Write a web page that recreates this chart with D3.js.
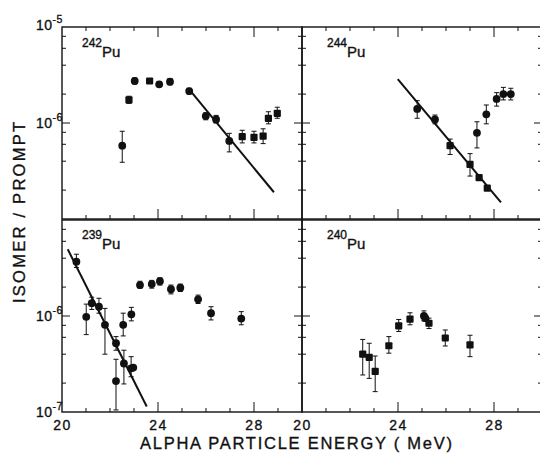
<!DOCTYPE html>
<html>
<head>
<meta charset="utf-8">
<script src="https://cdn.jsdelivr.net/npm/d3@7"></script>
<style>
  html, body { margin: 0; padding: 0; background: #fff; }
  svg { display: block; }
  text { font-family: "Liberation Sans", Arial, sans-serif; fill: #111; stroke: #111; stroke-width: 0.35; }
</style>
</head>
<body>
<svg id="chart" width="540" height="454"></svg>
<script>
// Isomer-to-prompt ratios vs. alpha particle energy (MeV), values in units of 1e-6.
// Each point: [energy, ratio, lower error, upper error, marker ("c" circle / "s" square)]
const pu242 = [
  [22.51, 0.58, 0.39, 0.82, "c"], [22.79, 1.74, 1.60, 1.90, "s"], [23.03, 2.74, 2.55, 2.95, "c"],
  [23.65, 2.74, 2.74, 2.74, "s"], [24.05, 2.53, 2.40, 2.70, "c"], [24.50, 2.69, 2.50, 2.90, "c"],
  [25.30, 2.15, 2.00, 2.30, "c"], [25.99, 1.18, 1.08, 1.28, "c"], [26.42, 1.09, 1.00, 1.20, "c"],
  [26.97, 0.65, 0.50, 0.78, "c"], [27.51, 0.72, 0.62, 0.84, "s"], [28.00, 0.71, 0.62, 0.82, "s"],
  [28.38, 0.73, 0.61, 0.87, "s"], [28.60, 1.12, 0.98, 1.31, "s"], [28.97, 1.26, 1.12, 1.46, "s"]
];
const pu244 = [
  [24.80, 1.40, 1.12, 1.71, "c"], [25.54, 1.09, 0.98, 1.21, "c"], [26.17, 0.58, 0.47, 0.68, "s"],
  [27.00, 0.37, 0.28, 0.48, "s"], [27.38, 0.27, 0.27, 0.27, "s"], [27.72, 0.21, 0.21, 0.21, "s"],
  [27.29, 0.79, 0.55, 1.03, "c"], [27.68, 1.23, 0.98, 1.54, "c"], [28.11, 1.78, 1.50, 2.07, "c"],
  [28.39, 2.00, 1.74, 2.35, "c"], [28.70, 2.00, 1.74, 2.30, "c"]
];
const pu239 = [
  [20.60, 3.68, 3.20, 4.40, "c"], [21.01, 0.98, 0.64, 1.33, "c"], [21.24, 1.36, 1.17, 1.57, "c"],
  [21.54, 1.25, 1.07, 1.53, "c"], [21.79, 0.81, 0.40, 1.20, "c"], [22.25, 0.52, 0.44, 0.61, "c"],
  [22.25, 0.21, 0.105, 0.354, "c"], [22.55, 0.81, 0.62, 1.07, "c"], [22.58, 0.32, 0.196, 0.44, "c"],
  [22.88, 0.285, 0.233, 0.377, "c"], [22.97, 0.29, 0.29, 0.29, "c"], [22.89, 1.04, 0.89, 1.23, "c"],
  [23.25, 2.10, 1.95, 2.30, "c"], [23.74, 2.15, 1.95, 2.35, "c"], [24.08, 2.30, 2.10, 2.50, "c"],
  [24.54, 1.90, 1.70, 2.10, "c"], [24.93, 1.97, 1.80, 2.15, "c"], [25.67, 1.49, 1.35, 1.65, "c"],
  [26.21, 1.07, 0.91, 1.25, "c"], [27.47, 0.94, 0.81, 1.11, "c"]
];
const pu240 = [
  [22.53, 0.40, 0.243, 0.57, "s"], [22.80, 0.37, 0.224, 0.52, "s"], [23.05, 0.265, 0.163, 0.383, "s"],
  [23.62, 0.49, 0.41, 0.61, "s"], [24.03, 0.79, 0.69, 0.92, "s"], [24.50, 0.93, 0.81, 1.08, "s"],
  [25.08, 1.00, 0.89, 1.13, "c"], [25.14, 0.95, 0.95, 0.95, "c"], [25.29, 0.84, 0.74, 0.95, "s"],
  [25.97, 0.59, 0.487, 0.715, "s"], [27.00, 0.50, 0.377, 0.63, "s"]
];
// Straight-line fits drawn through the falling part of three data sets: [[E0, r0], [E1, r1]]
const fit242 = [[25.30, 2.24], [28.83, 0.19]];
const fit244 = [[23.99, 2.87], [28.29, 0.149]];
const fit239 = [[20.24, 4.95], [23.53, 0.114]];

const energyDomain = [20, 30];
const ratioDomain = [1e-7, 1e-5];
const energyTickLabels = [20, 24, 28];
const energyMinorTicks = [21, 22, 23, 24, 25, 26, 27, 28, 29];
const ratioMinorTicks = [2e-7, 4e-7, 6e-7, 8e-7, 2e-6, 4e-6, 6e-6, 8e-6];
const ratioMajorTicks = [1e-6];
const yLabelsTop = [{ v: 1e-5, exp: "-5" }, { v: 1e-6, exp: "-6" }];
const yLabelsBottom = [{ v: 1e-6, exp: "-6" }, { v: 1e-7, exp: "-7" }];

const panels = [
  { name: "242", data: pu242, fit: fit242, col: 0, row: 0 },
  { name: "244", data: pu244, fit: fit244, col: 1, row: 0 },
  { name: "239", data: pu239, fit: fit239, col: 0, row: 1 },
  { name: "240", data: pu240, fit: null,   col: 1, row: 1 }
];

const svg = d3.select("#chart");
const colX = [[62, 302], [302, 542]];
const rowY = [[219, 27], [412, 220]];

panels.forEach(p => {
  const x = d3.scaleLinear().domain(energyDomain).range(colX[p.col]);
  const y = d3.scaleLog().domain(ratioDomain).range(rowY[p.row]);
  const g = svg.append("g");
  const [x0, x1] = x.range();
  const [yb, yt] = y.range();

  // frame
  g.append("rect")
    .attr("x", x0).attr("y", yt).attr("width", x1 - x0).attr("height", yb - yt)
    .attr("fill", "none").attr("stroke", "#111").attr("stroke-width", 1.4);

  // energy ticks on the bottom edge (pointing up) and, for upper panels, on the top edge
  const tickLen = e => (e % 4 === 0 ? 10 : 4);
  g.selectAll(".xb").data(energyMinorTicks).join("line")
    .attr("x1", d => x(d)).attr("x2", d => x(d))
    .attr("y1", yb).attr("y2", d => yb - tickLen(d))
    .attr("stroke", "#111").attr("stroke-width", 1);
  if (p.row === 0) {
    g.selectAll(".xt").data(energyMinorTicks).join("line")
      .attr("x1", d => x(d)).attr("x2", d => x(d))
      .attr("y1", yt).attr("y2", d => yt + tickLen(d))
      .attr("stroke", "#111").attr("stroke-width", 1);
  }

  // ratio ticks on both side edges, pointing inward
  const yTicks = ratioMinorTicks.map(v => ({ v, len: 4 })).concat(ratioMajorTicks.map(v => ({ v, len: 8 })));
  [[x0, 1], [x1, -1]].forEach(([xe, dir]) => {
    g.selectAll(null).data(yTicks).join("line")
      .attr("x1", xe).attr("x2", d => xe + dir * d.len)
      .attr("y1", d => y(d.v)).attr("y2", d => y(d.v))
      .attr("stroke", "#111").attr("stroke-width", 1);
  });

  // energy tick labels under the lower panels
  if (p.row === 1) {
    const ax = d3.axisBottom(x).tickValues(energyTickLabels).tickSize(0).tickPadding(8);
    const axg = g.append("g").attr("transform", `translate(0,${yb})`).call(ax);
    axg.select(".domain").remove();
    axg.selectAll("text")
      .attr("font-size", 14).attr("letter-spacing", 1.5)
      .attr("font-family", "Liberation Sans, Arial, sans-serif").attr("fill", "#111");
  }

  // decade labels at the left of the left panels
  if (p.col === 0) {
    const labs = p.row === 0 ? yLabelsTop : yLabelsBottom;
    labs.forEach(l => {
      const t = g.append("text")
        .attr("x", x0 - 26).attr("y", y(l.v) + (l.v === 1e-5 ? 3 : 5))
        .attr("font-size", 14).attr("letter-spacing", 0.5);
      t.append("tspan").text("10");
      t.append("tspan").attr("dy", -7).attr("font-size", 10.5).text(l.exp);
    });
  }

  // fitted line
  if (p.fit) {
    g.append("line")
      .attr("x1", x(p.fit[0][0])).attr("y1", y(p.fit[0][1] * 1e-6))
      .attr("x2", x(p.fit[1][0])).attr("y2", y(p.fit[1][1] * 1e-6))
      .attr("stroke", "#111").attr("stroke-width", 2);
  }

  // error bars
  const eb = g.selectAll(".eb").data(p.data.filter(d => d[3] > d[2])).join("g");
  eb.append("line")
    .attr("x1", d => x(d[0])).attr("x2", d => x(d[0]))
    .attr("y1", d => y(d[2] * 1e-6)).attr("y2", d => y(d[3] * 1e-6))
    .attr("stroke", "#111").attr("stroke-width", 1);
  [2, 3].forEach(k => {
    eb.append("line")
      .attr("x1", d => x(d[0]) - 2.5).attr("x2", d => x(d[0]) + 2.5)
      .attr("y1", d => y(d[k] * 1e-6)).attr("y2", d => y(d[k] * 1e-6))
      .attr("stroke", "#111").attr("stroke-width", 1);
  });

  // markers
  g.selectAll(".mc").data(p.data.filter(d => d[4] === "c")).join("circle")
    .attr("cx", d => x(d[0])).attr("cy", d => y(d[1] * 1e-6)).attr("r", 3.9)
    .attr("fill", "#111");
  g.selectAll(".ms").data(p.data.filter(d => d[4] === "s")).join("rect")
    .attr("x", d => x(d[0]) - 3.6).attr("y", d => y(d[1] * 1e-6) - 3.6)
    .attr("width", 7.2).attr("height", 7.2).attr("rx", 1)
    .attr("fill", "#111");

  // isotope label
  const lx = x0 + (p.col === 0 ? 20 : 25);
  const ly = yt + (p.row === 0 ? 20 : 19);
  const lab = g.append("text").attr("x", lx).attr("y", ly);
  lab.append("tspan").attr("font-size", 12).text(p.name);
  lab.append("tspan").attr("dy", 10).attr("font-size", 15).text("Pu");
});

// axis titles
svg.append("text")
  .attr("x", 140).attr("y", 449)
  .attr("font-size", 16.5).attr("textLength", 312).attr("lengthAdjust", "spacing")
  .text("ALPHA PARTICLE ENERGY ( MeV)");
svg.append("text")
  .attr("transform", "translate(25,303) rotate(-90)")
  .attr("font-size", 16.5).attr("textLength", 181).attr("lengthAdjust", "spacing")
  .text("ISOMER / PROMPT");
</script>
</body>
</html>
